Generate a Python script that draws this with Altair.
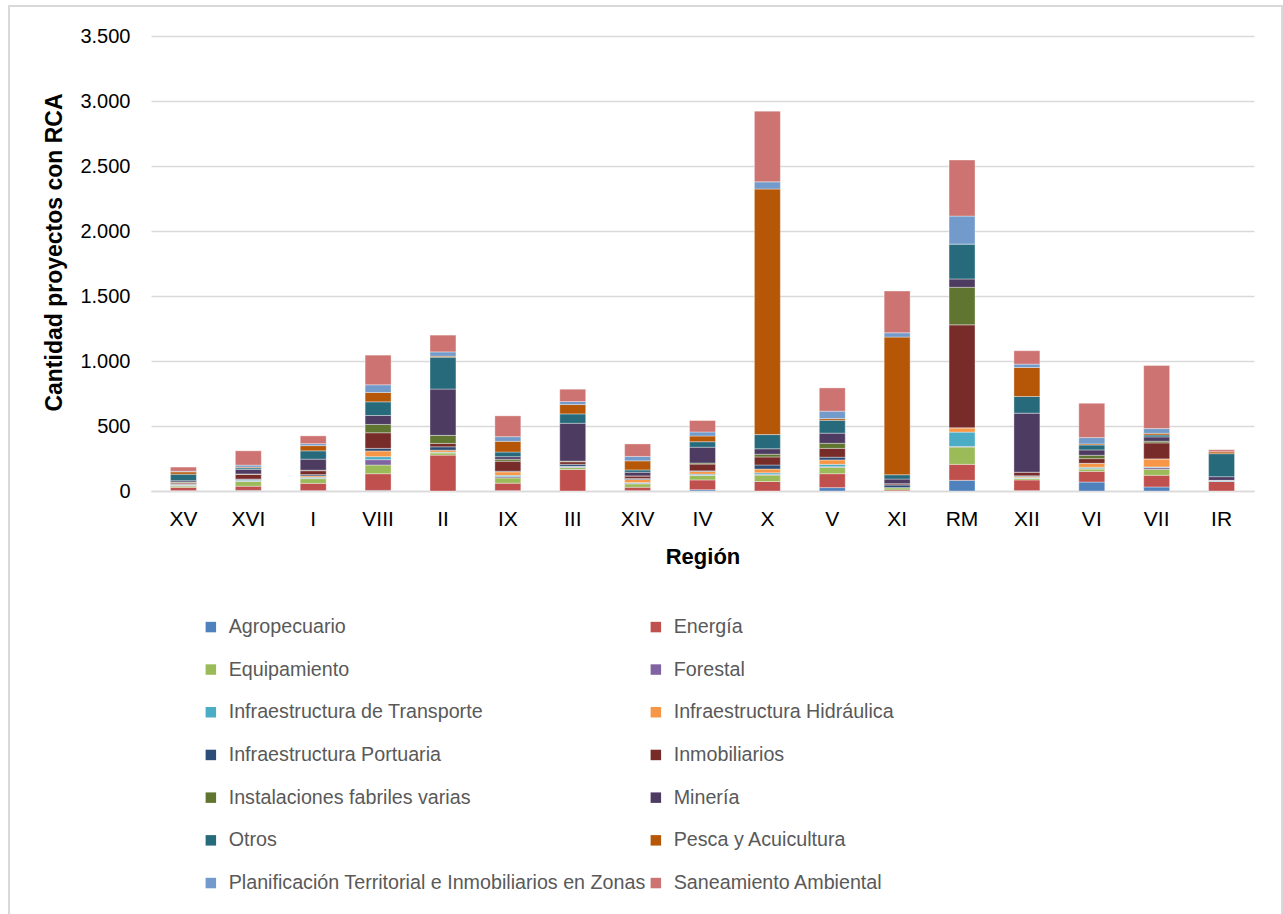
import altair as alt
import pandas as pd

regiones = ["XV", "XVI", "I", "VIII", "II", "IX", "III", "XIV", "IV", "X",
            "V", "XI", "RM", "XII", "VI", "VII", "IR"]

tipos = ["Agropecuario", "Energía", "Equipamiento", "Forestal",
         "Infraestructura de Transporte", "Infraestructura Hidráulica",
         "Infraestructura Portuaria", "Inmobiliarios",
         "Instalaciones fabriles varias", "Minería", "Otros",
         "Pesca y Acuicultura",
         "Planificación Territorial e Inmobiliarios en Zonas",
         "Saneamiento Ambiental"]

colores = ["#4F81BD", "#C0504D", "#9BBB59", "#8064A2", "#4BACC6", "#F79646",
           "#2C4D75", "#772C2A", "#5F7530", "#4D3B62", "#276A7C", "#B65708",
           "#729ACA", "#CD7371"]

# Proyectos con RCA por tipo (mismo orden que `tipos`) para cada región
agropecuario = [3, 5, 3, 5, 0, 3, 0, 3, 10, 0, 26, 0, 82, 3, 69, 31, 0]
energia = [25, 32, 56, 128, 276, 57, 165, 26, 75, 73, 107, 8, 123, 82, 82, 90, 74]
equipamiento = [10, 36, 36, 67, 18, 41, 15, 26, 34, 49, 49, 18, 133, 13, 18, 46, 0]
forestal = [5, 3, 3, 41, 0, 10, 5, 5, 3, 6, 5, 0, 5, 0, 3, 13, 0]
inf_transporte = [3, 8, 8, 23, 5, 10, 5, 5, 8, 12, 18, 0, 110, 5, 10, 5, 8]
inf_hidraulica = [5, 3, 10, 44, 15, 26, 0, 23, 20, 29, 34, 0, 33, 8, 31, 62, 0]
inf_portuaria = [5, 5, 10, 20, 26, 5, 15, 8, 5, 31, 21, 20, 0, 6, 0, 0, 0]
inmobiliarios = [8, 36, 30, 120, 26, 77, 20, 20, 52, 62, 68, 10, 792, 28, 36, 123, 0]
inst_fabriles = [5, 3, 4, 64, 62, 15, 5, 0, 8, 21, 39, 0, 289, 0, 26, 13, 0]
mineria = [10, 35, 85, 69, 356, 20, 291, 28, 122, 42, 78, 36, 64, 454, 41, 33, 28]
otros = [50, 12, 64, 105, 245, 36, 72, 18, 42, 109, 99, 33, 269, 128, 38, 15, 177]
pesca = [18, 6, 40, 72, 8, 82, 72, 70, 44, 1889, 13, 1059, 0, 223, 8, 13, 15]
planificacion = [5, 15, 15, 59, 33, 36, 23, 34, 31, 55, 57, 33, 215, 26, 49, 36, 0]
saneamiento = [32, 110, 60, 228, 129, 160, 95, 96, 88, 544, 179, 321, 431, 103, 264, 485, 15]

series = [agropecuario, energia, equipamiento, forestal, inf_transporte,
          inf_hidraulica, inf_portuaria, inmobiliarios, inst_fabriles, mineria,
          otros, pesca, planificacion, saneamiento]

filas = []
for orden, (tipo, valores) in enumerate(zip(tipos, series)):
    for region, v in zip(regiones, valores):
        filas.append({"Región": region, "Tipo": tipo, "Cantidad": v, "orden": orden})
df = pd.DataFrame(filas)

FONT = "Liberation Sans, Arial, Helvetica, sans-serif"
W, H = 1103, 455

barras = alt.Chart(df).mark_bar(stroke="white", strokeWidth=0.6, strokeOpacity=0.6).encode(
    x=alt.X("Región:N", sort=regiones,
            scale=alt.Scale(paddingInner=0.6, paddingOuter=0.3),
            axis=alt.Axis(title="Región", labelAngle=0, labelFontSize=21,
                          labelColor="#000000", labelPadding=17, ticks=False,
                          domainColor="#D9D9D9", domainWidth=1.5,
                          titleFontSize=22, titleFontWeight="bold",
                          titleColor="#000000", titlePadding=17)),
    y=alt.Y("sum(Cantidad):Q", stack="zero",
            scale=alt.Scale(domain=[0, 3500]),
            axis=alt.Axis(title="Cantidad proyectos con RCA",
                          values=[0, 500, 1000, 1500, 2000, 2500, 3000, 3500],
                          labelExpr="replace(format(datum.value, ','), ',', '.')",
                          labelFontSize=20, labelColor="#000000", labelPadding=21,
                          ticks=False, domain=False, gridColor="#D9D9D9",
                          gridWidth=1.5, titleFontSize=23, titleFontWeight="bold",
                          titleColor="#000000", titlePadding=13, titleY=216)),
    color=alt.Color("Tipo:N", sort=tipos,
                    scale=alt.Scale(domain=tipos, range=colores),
                    legend=alt.Legend(title=None, orient="none", legendX=50,
                                      legendY=581, columns=2, direction="horizontal",
                                      columnPadding=0, rowPadding=21.7,
                                      symbolType="square", symbolSize=110,
                                      symbolStrokeWidth=0, labelFontSize=19.7,
                                      labelColor="#595959", labelLimit=600,
                                      labelOffset=8)),
    order=alt.Order("orden:Q", sort="ascending"),
)

marco = alt.Chart(pd.DataFrame({"a": [0]})).mark_rect(
    fill=None, stroke="#D9D9D9", strokeWidth=2
).encode(
    x=alt.value(-142), x2=alt.value(1131), y=alt.value(-30), y2=alt.value(900)
)

chart = alt.layer(marco, barras).properties(
    width=W, height=H,
    autosize=alt.AutoSizeParams(type="none"),
    padding={"left": 151, "top": 36, "right": 29, "bottom": 423},
).configure(font=FONT).configure_view(stroke=None)

chart.save("out.html", embed_options={"renderer": "svg", "actions": False})
